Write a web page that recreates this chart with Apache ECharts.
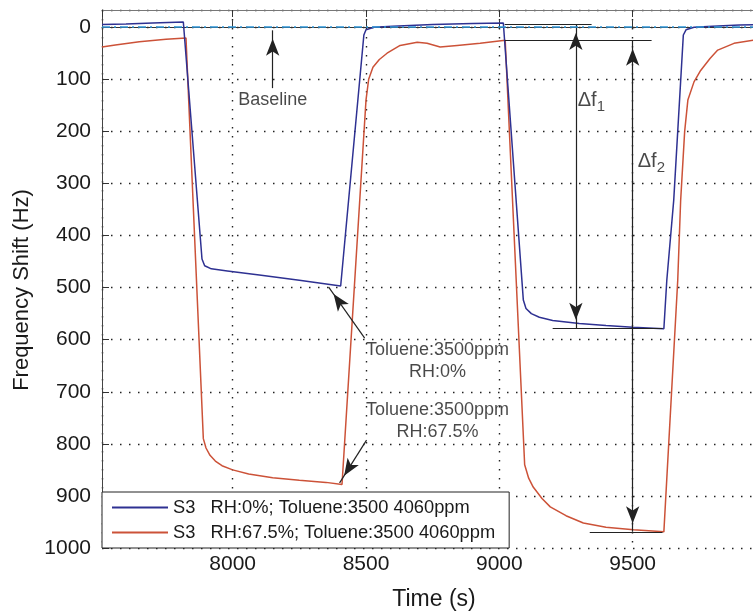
<!DOCTYPE html>
<html>
  <head>
    <meta charset="utf-8" />
    <title>Frequency shift</title>
    <script src="https://cdn.jsdelivr.net/npm/echarts@6/dist/echarts.min.js"></script>
    <style>
      html, body { margin: 0; padding: 0; background: #fff; }
    </style>
  </head>
  <body>
    <div id="main" style="width: 753px;height:612px;"></div>
    <script type="text/javascript">
      // S3, RH 0%
      var timeBlue = [7510, 7600, 7700, 7815, 7885, 7895, 7920, 7980, 8100, 8250, 8405, 8492, 8500, 8530, 8600, 8750, 8900, 9015,
        9090, 9100, 9120, 9150, 9200, 9300, 9400, 9500, 9617, 9628, 9654, 9690, 9700, 9730, 9800, 9900, 10000];
      var shiftBlue = [-5, -6, -8, -10, 445, 458, 464, 468, 476, 486, 497, 15, 5, 0, -2, -5, -7, -8,
        524, 540, 550, 557, 563, 569, 573, 576, 579, 486, 332, 15, 5, 0, -2, -4, -5];

      // S3, RH 67.5%
      var timeRed = [7510, 7560, 7650, 7750, 7825, 7890, 7900, 7915, 7935, 7960, 8000, 8060, 8150, 8250, 8350, 8410,
        8500, 8510, 8526, 8550, 8579, 8628, 8692, 8729, 8778, 8842, 8928, 9022,
        9095, 9110, 9127, 9160, 9191, 9250, 9315, 9400, 9503, 9617,
        9669, 9680, 9695, 9707, 9730, 9755, 9790, 9819, 9880, 9955, 10000];
      var shiftRed = [38, 34, 28, 23, 21, 790, 808, 822, 833, 842, 850, 858, 865, 870, 874, 878,
        140, 100, 77, 62, 50, 35, 29, 31, 38, 35, 31, 25,
        840, 866, 883, 905, 921, 938, 952, 960, 965, 969,
        486, 332, 200, 140, 105, 83, 60, 44, 31, 25, 22];

      var seriesNames = ['S3   RH:0%; Toluene:3500 4060ppm', 'S3   RH:67.5%; Toluene:3500 4060ppm'];

      // annotation lines [x1, y1, x2, y2, arrows]
      var arrowLines = [
        [8150, 117, 8150, 6, 'end'],
        [8495, 597, 8360, 499, 'end'],
        [8502, 793, 8401, 875, 'end'],
        [9287, -5, 9287, 578, 'both'],
        [9500, 25, 9500, 969, 'both'],
        [9020, -5, 9346, -5, 'none'],
        [9020, 25, 9571, 25, 'none'],
        [9200, 578, 9612, 578, 'none'],
        [9339, 969, 9612, 969, 'none']
      ];
      var noteX = [8150, 8768, 8768];
      var noteY = [140, 641, 756];
      var noteText = ['Baseline', 'Toluene:3500ppm\nRH:0%', 'Toluene:3500ppm\nRH:67.5%'];
      var deltaX = [9294, 9519];
      var deltaY = [140, 257];
      var deltaSub = ['1', '2'];

      function pairs(xs, ys) {
        return xs.map(function (x, i) { return [x, ys[i]]; });
      }

      var font = 'Liberation Sans, Arial, Helvetica, sans-serif';
      var arrowSize = [10, 17];
      var plain = function (v) { return String(v); };

      var markLines = arrowLines.map(function (a) {
        var from = a[4] === 'both' ? 'arrow' : 'none';
        var to = a[4] === 'none' ? 'none' : 'arrow';
        return [
          { coord: [a[0], a[1]], symbol: from, symbolSize: arrowSize, symbolOffset: [0, arrowSize[1] / 2] },
          { coord: [a[2], a[3]], symbol: to, symbolSize: arrowSize, symbolOffset: [0, arrowSize[1] / 2] }
        ];
      });

      var myChart = echarts.init(document.getElementById('main'));

      var option = {
        animation: false,
        textStyle: { fontFamily: font },
        // plot runs past the right edge of the picture
        grid: { left: 102, top: 10, width: 664, height: 538, outerBoundsMode: 'none', containLabel: false },
        legend: {
          data: seriesNames,
          orient: 'vertical',
          left: 102,
          top: 492,
          padding: [5, 14, 5, 10],
          itemGap: 4,
          itemWidth: 56,
          itemHeight: 2,
          icon: 'rect',
          backgroundColor: '#fff',
          borderColor: '#222',
          borderWidth: 1,
          borderRadius: 0,
          textStyle: { fontSize: 18.3, lineHeight: 21, color: '#1a1a1a', fontFamily: font }
        },
        xAxis: [
          {
            type: 'value',
            min: 7510,
            max: 10000,
            minInterval: 500,
            maxInterval: 500,
            name: 'Time (s)',
            nameLocation: 'middle',
            nameGap: 40,
            nameTextStyle: { fontSize: 23, color: '#1a1a1a', fontFamily: font },
            axisLine: { lineStyle: { color: '#333', width: 1 } },
            axisTick: { inside: true, length: 7, lineStyle: { color: '#333' } },
            axisLabel: { showMinLabel: false, showMaxLabel: false, fontSize: 21, color: '#1a1a1a', margin: 6, fontFamily: font, formatter: plain },
            splitLine: { show: true, lineStyle: { color: '#222', type: [1.5, 7.5], width: 1.4 } }
          },
          {
            type: 'value',
            position: 'top',
            min: 7510,
            max: 10000,
            minInterval: 500,
            maxInterval: 500,
            axisLine: { show: true, lineStyle: { color: '#777', width: 1 } },
            axisTick: { show: true, inside: true, length: 7, lineStyle: { color: '#333' } },
            axisLabel: { show: false },
            splitLine: { show: false }
          }
        ],
        yAxis: {
          type: 'value',
          inverse: true,
          min: -33,
          max: 1000,
          minInterval: 100,
          maxInterval: 100,
          name: 'Frequency Shift (Hz)',
          nameLocation: 'middle',
          nameGap: 68,
          nameTextStyle: { fontSize: 22, color: '#1a1a1a', fontFamily: font, padding: [0, 22, 0, 0] },
          axisLine: { show: true, lineStyle: { color: '#444', width: 1 } },
          axisTick: { show: true, inside: true, length: 7, lineStyle: { color: '#333' } },
          axisLabel: { showMinLabel: false, fontSize: 21, color: '#1a1a1a', margin: 11, fontFamily: font, formatter: plain },
          splitLine: { show: true, lineStyle: { color: '#222', type: [1.5, 7.5], width: 1.4 } }
        },
        series: [
          {
            name: 'annotations',
            type: 'line',
            data: [],
            silent: true,
            markLine: {
              silent: true,
              symbol: ['none', 'none'],
              label: { show: false },
              lineStyle: { color: '#222', width: 1.2, type: 'solid' },
              emphasis: { disabled: true },
              data: markLines
            }
          },
          {
            name: seriesNames[0],
            type: 'line',
            data: pairs(timeBlue, shiftBlue),
            showSymbol: false,
            symbol: 'none',
            color: '#2e3192',
            lineStyle: { color: '#2e3192', width: 1.5 },
            z: 3,
            markLine: {
              silent: true,
              symbol: ['none', 'none'],
              label: { show: false },
              lineStyle: { color: '#2f95d6', width: 1.5, type: [8, 4, 2, 4] },
              data: [{ yAxis: 0 }]
            }
          },
          {
            name: seriesNames[1],
            type: 'line',
            data: pairs(timeRed, shiftRed),
            showSymbol: false,
            symbol: 'none',
            color: '#cc5238',
            lineStyle: { color: '#cc5238', width: 1.5 },
            z: 2
          },
          {
            name: 'notes',
            type: 'scatter',
            silent: true,
            symbolSize: 0,
            data: noteX.map(function (x, i) {
              return { value: [x, noteY[i]], text: noteText[i] };
            }),
            label: {
              show: true,
              position: 'inside',
              formatter: function (p) { return p.data.text; },
              fontSize: 18,
              lineHeight: 22,
              color: '#1a1a1a',
              align: 'center',
              fontFamily: font
            }
          },
          {
            name: 'deltas',
            type: 'scatter',
            silent: true,
            symbolSize: 0,
            data: deltaX.map(function (x, i) {
              return { value: [x, deltaY[i]], sub: deltaSub[i] };
            }),
            label: {
              show: true,
              position: 'right',
              distance: 0,
              formatter: function (p) { return '{a|\u0394f}{b|' + p.data.sub + '}'; },
              rich: {
                a: { fontSize: 20, lineHeight: 28, color: '#1a1a1a', fontFamily: font },
                b: { fontSize: 15, lineHeight: 15, color: '#1a1a1a', verticalAlign: 'bottom', fontFamily: font }
              }
            }
          }
        ]
      };

      myChart.setOption(option);
    </script>
  </body>
</html>
